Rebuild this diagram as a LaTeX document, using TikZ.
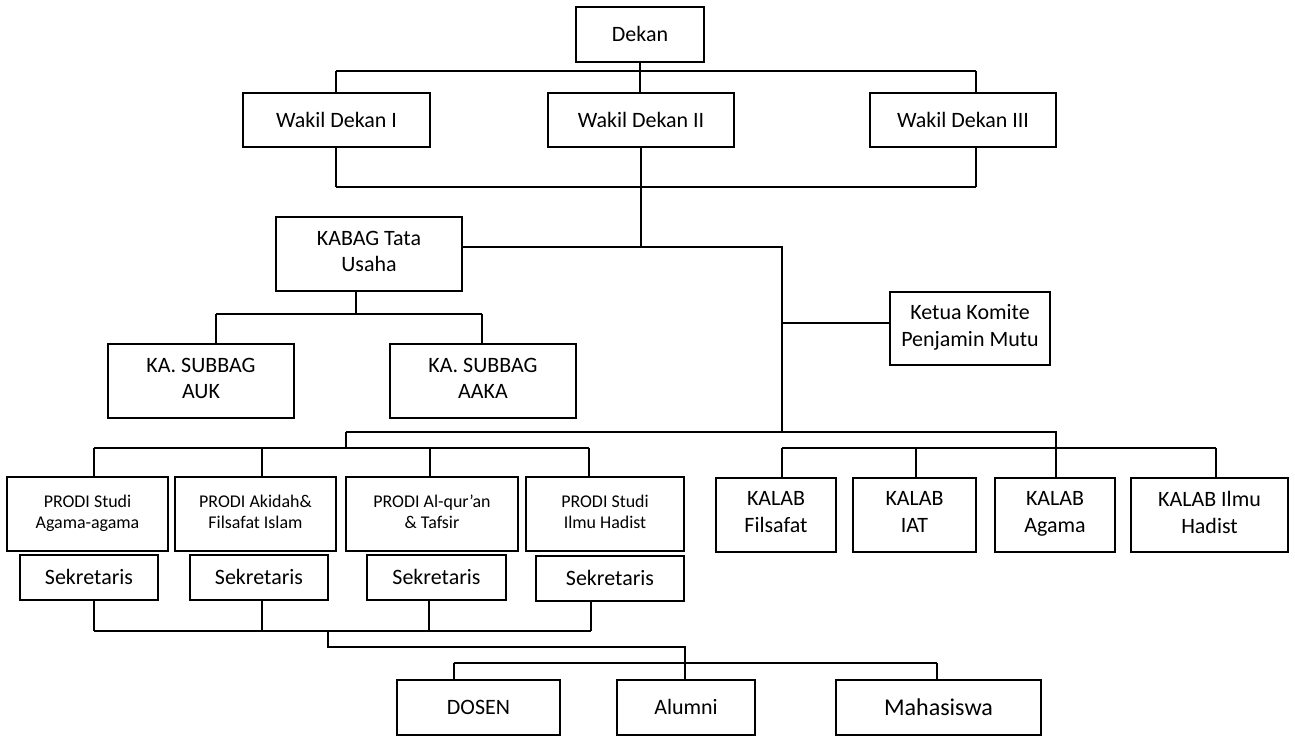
\documentclass[tikz,border=0pt]{standalone}
\usepackage{fontspec}
\setmainfont{Carlito}
\usepackage{tikz}
\newcommand{\unitfont}{\fontsize{12.5}{15.2}\selectfont}
\newcommand{\prodifont}{\fontsize{10.2}{11.6}\selectfont}

\begin{document}
\begin{tikzpicture}[x=0.02cm,y=-0.02cm,
  unit/.style={draw, line width=0.7pt, rectangle, align=center, inner sep=0pt, font=\unitfont,
    execute at begin node={\rule{0pt}{0.89em}}, execute at end node={\rule[-0.25em]{0pt}{0.25em}}}]
\useasboundingbox (0,0) rectangle (1295,736);

\node (dekan) at (640,34.5) [unit, minimum width=2.56cm, minimum height=1.1cm] {Dekan};
\node (wd1) at (336.5,120) [unit, minimum width=3.74cm, minimum height=1.08cm] {Wakil Dekan I};
\node (wd2) at (641,120) [unit, minimum width=3.72cm, minimum height=1.08cm] {Wakil Dekan II};
\node (wd3) at (963,120) [unit, minimum width=3.72cm, minimum height=1.08cm] {Wakil Dekan III};
\node (kabag) at (369,254) [unit, minimum width=3.72cm, minimum height=1.48cm] {KABAG Tata\\Usaha};
\node (auk) at (201,381) [unit, minimum width=3.72cm, minimum height=1.48cm] {KA. SUBBAG\\AUK};
\node (aaka) at (483,381) [unit, minimum width=3.72cm, minimum height=1.48cm] {KA. SUBBAG\\AAKA};
\node (ketua) at (970,328.5) [unit, minimum width=3.2cm, minimum height=1.46cm] {Ketua Komite\\Penjamin Mutu};

\node (p1) at (87.5,514) [unit, font=\prodifont, minimum width=3.22cm, minimum height=1.48cm] {PRODI Studi\\Agama-agama};
\node (p2) at (255.5,514) [unit, font=\prodifont, minimum width=3.22cm, minimum height=1.48cm] {PRODI Akidah\&\\Filsafat Islam};
\node (p3) at (432,514) [unit, font=\prodifont, minimum width=3.44cm, minimum height=1.48cm] {PRODI Al-qur’an\\\& Tafsir};
\node (p4) at (605,514) [unit, font=\prodifont, minimum width=3.16cm, minimum height=1.48cm] {PRODI Studi\\Ilmu Hadist};
\node (s1) at (89,577.5) [unit, minimum width=2.76cm, minimum height=0.9cm] {Sekretaris};
\node (s2) at (259,577.5) [unit, minimum width=2.76cm, minimum height=0.9cm] {Sekretaris};
\node (s3) at (436.5,577.5) [unit, minimum width=2.78cm, minimum height=0.9cm] {Sekretaris};
\node (s4) at (610,578.5) [unit, minimum width=2.96cm, minimum height=0.9cm] {Sekretaris};

\node (k1) at (776,515) [unit, minimum width=2.4cm, minimum height=1.48cm] {KALAB\\Filsafat};
\node (k2) at (914.5,515) [unit, minimum width=2.46cm, minimum height=1.48cm] {KALAB\\IAT};
\node (k3) at (1055,515) [unit, minimum width=2.4cm, minimum height=1.48cm] {KALAB\\Agama};
\node (k4) at (1209.5,515) [unit, minimum width=3.14cm, minimum height=1.48cm] {KALAB Ilmu\\Hadist};

\node (dosen) at (478.5,707.5) [unit, minimum width=3.26cm, minimum height=1.1cm] {DOSEN};
\node (alumni) at (686,707.5) [unit, minimum width=2.76cm, minimum height=1.1cm] {Alumni};
\node (maha) at (938.5,707.5) [unit, font=\fontsize{13.7}{16}\selectfont, minimum width=4.1cm, minimum height=1.1cm] {Mahasiswa};

% junctions
\coordinate (tb1) at (336,71);
\coordinate (tb3) at (976,71);
\coordinate (bb1) at (336,187);
\coordinate (bb3) at (976,187);
\coordinate (tu) at (641,247);
\coordinate (tr) at (782,247);
\coordinate (kj) at (782,323);
\coordinate (sb) at (356,314);
\coordinate (sbl) at (216,314);
\coordinate (sbr) at (482,314);
\coordinate (ul) at (346,432);
\coordinate (um) at (782,432);
\coordinate (ur) at (1056,432);
\coordinate (pl) at (94,448);
\coordinate (pj) at (346,448);
\coordinate (pr) at (589,448);
\coordinate (kl) at (782,448);
\coordinate (kr) at (1216,448);
\coordinate (sl) at (94,631);
\coordinate (sj) at (328,631);
\coordinate (sr) at (591,631);
\coordinate (dj) at (328,647);
\coordinate (dr) at (685,647);
\coordinate (bl) at (454,663);
\coordinate (br) at (937,663);

\draw[line width=0.7pt]
(dekan.south) -- (dekan.south |- wd2.north)
(tb1) -- (tb3)
(tb1) -- (tb1 |- wd1.north)
(tb3) -- (tb3 |- wd3.north)
(bb1) -- (bb3)
(bb1) -- (bb1 |- wd1.south)
(bb3) -- (bb3 |- wd3.south)
(wd2.south -| tu) -- (tu)
(kabag.east |- tu) -- (tr) -- (um)
(kj) -- (kj -| ketua.west)
(kabag.south -| sb) -- (sb)
(sbl) -- (sbr)
(sbl) -- (sbl |- auk.north)
(sbr) -- (sbr |- aaka.north)
(ul) -- (ur) -- (ur |- k3.north)
(ul) -- (pj)
(pl) -- (pr)
(pl) -- (pl |- p1.north)
(p2.north -| 262,0) -- (262,448)
(p3.north -| 430,0) -- (430,448)
(pr) -- (pr |- p4.north)
(kl) -- (kr)
(kl) -- (kl |- k1.north)
(k2.north -| 916,0) -- (916,448)
(kr) -- (kr |- k4.north)
(s1.south -| sl) -- (sl)
(s2.south -| 262,0) -- (262,631)
(s3.south -| 429,0) -- (429,631)
(s4.south -| sr) -- (sr)
(sl) -- (sr)
(sj) -- (dj) -- (dr) -- (dr |- alumni.north)
(bl) -- (br)
(bl) -- (bl |- dosen.north)
(br) -- (br |- maha.north);
\end{tikzpicture}
\end{document}
